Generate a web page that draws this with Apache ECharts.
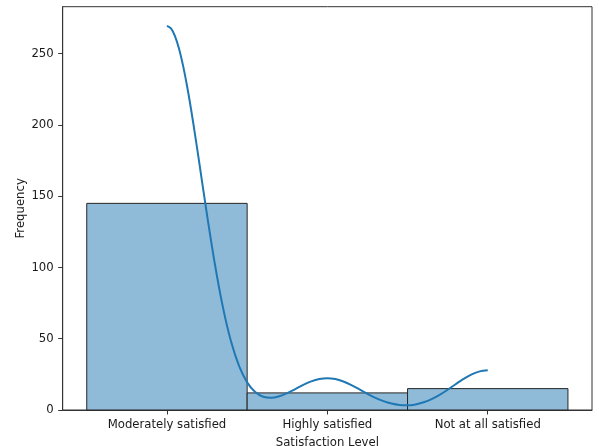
<!DOCTYPE html>
<html>
<head>
<meta charset="utf-8">
<script src="https://cdn.jsdelivr.net/npm/echarts@6/dist/echarts.min.js"></script>
<style>
  html, body { margin: 0; padding: 0; background: #fff; }
  #chart { width: 599px; height: 446px; }
</style>
</head>
<body>
<div id="chart"></div>
<script>
// Survey responses per satisfaction level
const categories = ['Moderately satisfied', 'Highly satisfied', 'Not at all satisfied'];
const counts = [145, 12, 15];

// Density curve (scaled to counts), sampled along the category positions
const kdeX = [0, 0.025, 0.05, 0.075, 0.1, 0.125, 0.15, 0.175, 0.2, 0.25, 0.3, 0.35, 0.4, 0.45, 0.5, 0.55, 0.6, 0.65, 0.7, 0.75, 0.8, 0.85, 0.9, 0.95,
              1, 1.05, 1.1, 1.15, 1.2, 1.25, 1.3, 1.35, 1.4, 1.45, 1.5, 1.55, 1.6, 1.65, 1.7, 1.75, 1.8, 1.85, 1.9, 1.95, 2];
const kdeY = [269.6, 267.8, 262.4, 253.6, 241.8, 227.5, 211.2, 193.3, 174.6, 136.8, 101.6, 71.5, 47.9, 30.8, 19.4, 12.6, 9.3, 8.6, 9.7, 11.9, 14.7, 17.6, 20.1, 21.7,
              22.3, 21.7, 20.0, 17.5, 14.5, 11.4, 8.5, 6.2, 4.5, 3.5, 3.3, 3.9, 5.4, 7.6, 10.6, 14.2, 18.1, 21.8, 25.0, 27.1, 27.9];

const yTicks = [0, 50, 100, 150, 200, 250];
const xTicks = [0, 1, 2];

const FONT = 'DejaVu Sans';
const TEXT = '#1a1a1a';
const chart = echarts.init(document.getElementById('chart'), null, { renderer: 'canvas' });

chart.setOption({
  animation: false,
  backgroundColor: '#ffffff',
  grid: {
    left: 62.7, right: 7, top: 6.7, bottom: 36,
    containLabel: false,
    outerBoundsMode: 'none',
    show: true, borderColor: '#333', borderWidth: 1, backgroundColor: 'transparent'
  },
  xAxis: {
    type: 'value',
    min: -0.65,
    max: 2.65,
    name: 'Satisfaction Level',
    nameLocation: 'middle',
    nameGap: 27,
    nameTextStyle: { fontFamily: FONT, fontSize: 11.7, color: TEXT },
    axisLine: { show: true, onZero: false, lineStyle: { color: '#333', width: 1 } },
    axisTick: { show: true, length: 4.5, customValues: xTicks, lineStyle: { color: '#333' } },
    axisLabel: {
      customValues: xTicks,
      formatter: v => categories[Math.round(v)] || '',
      fontFamily: FONT, fontSize: 11.7, color: TEXT, margin: 9
    },
    splitLine: { show: false }
  },
  yAxis: {
    type: 'value',
    min: 0,
    max: 283,
    name: 'Frequency',
    nameLocation: 'middle',
    nameGap: 36,
    nameMoveOverlap: false,
    nameTextStyle: { fontFamily: FONT, fontSize: 11.7, color: TEXT },
    axisLine: { show: true, onZero: false, lineStyle: { color: '#333', width: 1 } },
    axisTick: { show: true, length: 4.5, customValues: yTicks, lineStyle: { color: '#333' } },
    axisLabel: {
      customValues: yTicks,
      fontFamily: FONT, fontSize: 11.7, color: TEXT, margin: 9
    },
    splitLine: { show: false }
  },
  series: [
    {
      type: 'custom',
      data: counts.map((c, i) => [i, c]),
      renderItem(params, api) {
        const i = api.value(0);
        const v = api.value(1);
        const topLeft = api.coord([i - 0.5, v]);
        const bottomRight = api.coord([i + 0.5, 0]);
        return {
          type: 'rect',
          shape: {
            x: topLeft[0], y: topLeft[1],
            width: bottomRight[0] - topLeft[0],
            height: bottomRight[1] - topLeft[1]
          },
          style: { fill: '#8fbbd9', stroke: '#262626', lineWidth: 1 }
        };
      },
      z: 2
    },
    {
      type: 'line',
      data: kdeX.map((x, i) => [x, kdeY[i]]),
      smooth: 0.3,
      showSymbol: false,
      lineStyle: { color: '#1f77b4', width: 2 },
      z: 3
    }
  ]
});
</script>
</body>
</html>
